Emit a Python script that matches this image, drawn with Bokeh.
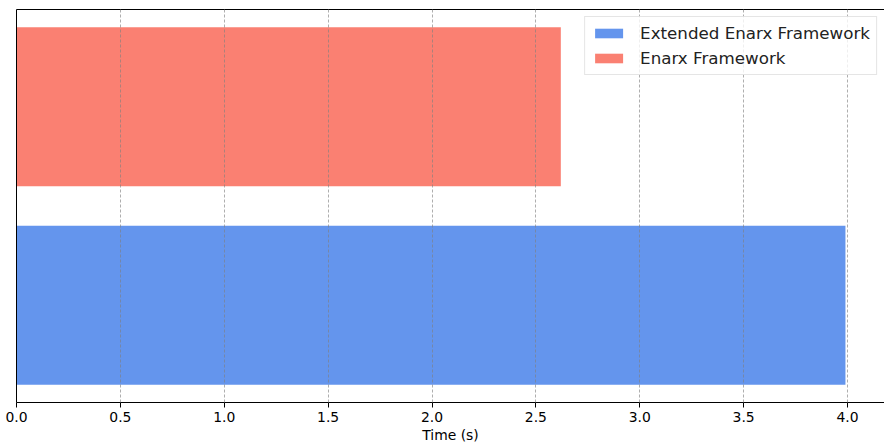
from bokeh.plotting import figure
from bokeh.models import LinearAxis, FixedTicker, Range1d, Legend, LegendItem
from bokeh.embed import file_html
from bokeh.resources import INLINE

# Data
labels = ["Extended Enarx Framework", "Enarx Framework"]
positions = [0, 1]
times = [3.99, 2.62]
colors = ["#6495ED", "#FA8072"]
x_ticks = [0.0, 0.5, 1.0, 1.5, 2.0, 2.5, 3.0, 3.5, 4.0]

FONT = "DejaVu Sans"

p = figure(width=884, height=445, output_backend="svg", toolbar_location=None,
           x_range=Range1d(0, 4.178), y_range=Range1d(-0.49, 1.49),
           min_border_left=16, min_border_right=0, min_border_top=9, min_border_bottom=43,
           x_axis_location=None, y_axis_location=None)
p.outline_line_color = None
p.background_fill_color = "white"
p.border_fill_color = "white"

renderers = []
for lab, pos, t, c in zip(labels, positions, times, colors):
    r = p.hbar(y=[pos], right=[t], left=0, height=0.8, color=c, line_color=None)
    renderers.append((lab, r))

# bottom axis
xaxis = LinearAxis(ticker=FixedTicker(ticks=x_ticks), axis_label="Time (s)")
xaxis.major_label_overrides = {t: f"{t:.1f}" for t in x_ticks}
xaxis.major_label_text_font = FONT
xaxis.major_label_text_font_size = "13.9px"
xaxis.major_label_text_color = "black"
xaxis.axis_label_text_font = FONT
xaxis.axis_label_text_font_size = "13.9px"
xaxis.axis_label_text_font_style = "normal"
xaxis.axis_label_text_color = "black"
xaxis.axis_label_standoff = 2
xaxis.major_label_standoff = 4
xaxis.major_tick_out = 5
xaxis.major_tick_in = 0
xaxis.minor_tick_out = 0
xaxis.minor_tick_in = 0
xaxis.axis_line_color = "black"
xaxis.major_tick_line_color = "black"
p.add_layout(xaxis, "below")

# left spine
yaxis = LinearAxis(ticker=FixedTicker(ticks=[]), major_label_text_font_size="0px",
                   major_tick_out=0, major_tick_in=0, minor_tick_out=0, minor_tick_in=0,
                   axis_line_color="black")
p.add_layout(yaxis, "left")

# top spine
taxis = LinearAxis(ticker=FixedTicker(ticks=[]), major_label_text_font_size="0px",
                   major_tick_out=0, major_tick_in=0, minor_tick_out=0, minor_tick_in=0,
                   axis_line_color="black")
p.add_layout(taxis, "above")

# grid
p.xgrid.ticker = FixedTicker(ticks=x_ticks)
p.xgrid.grid_line_color = "#808080"
p.xgrid.grid_line_alpha = 0.8
p.xgrid.grid_line_width = 0.8
p.xgrid.grid_line_dash = "3 2"
p.xgrid.level = "guide"
p.ygrid.grid_line_color = None

legend = Legend(items=[LegendItem(label=lab, renderers=[r]) for lab, r in renderers],
                location="top_right")
legend.margin = 7
legend.padding = 6
legend.spacing = 5
legend.glyph_width = 35
legend.glyph_height = 12
legend.label_standoff = 14
legend.label_text_font = FONT
legend.label_text_font_size = "16.7px"
legend.label_text_color = "#222222"
legend.border_line_color = "#cccccc"
legend.border_line_width = 1
legend.background_fill_alpha = 0.8
legend.label_height = 19
p.add_layout(legend, "center")

open("out.html", "w").write(file_html(p, INLINE))
